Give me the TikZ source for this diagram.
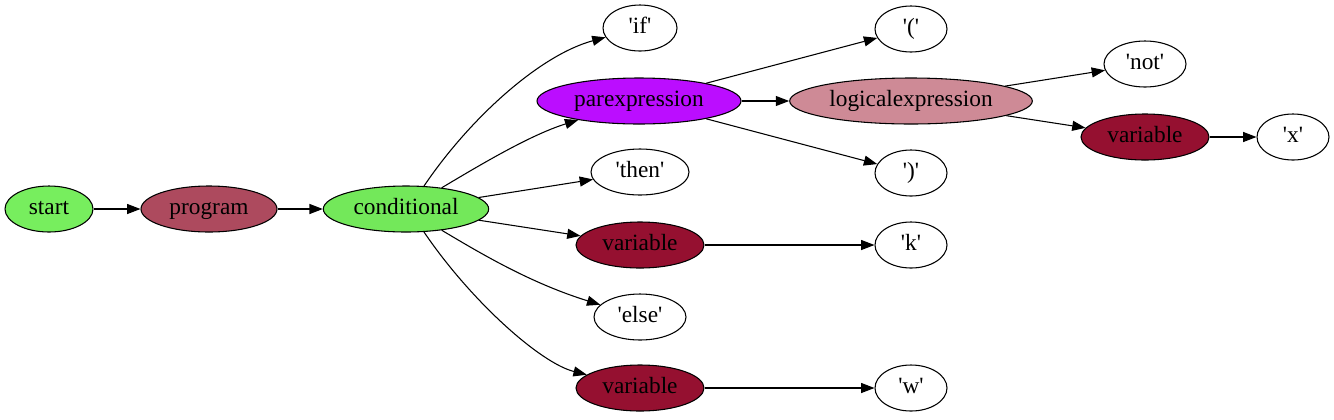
\documentclass[tikz,border=0pt]{standalone}
\usepackage{fontspec}
\setmainfont{Liberation Serif}
\usetikzlibrary{arrows.meta,shapes.geometric}
\definecolor{cgreen}{HTML}{77EE5E}
\definecolor{cgreenb}{HTML}{73E85A}
\definecolor{cprog}{HTML}{AD4A5E}
\definecolor{cpar}{HTML}{BB0DFF}
\definecolor{clog}{HTML}{CE8A96}
\definecolor{cvar}{HTML}{951030}
\newcommand{\qq}[1]{\textquotesingle#1\textquotesingle}
\tikzset{
  gv/.style={ellipse, draw=black, line width=0.8pt, inner sep=0pt, minimum height=34.5pt, text height=11.5pt, text depth=4pt, font=\fontsize{17.5pt}{20pt}\selectfont},
  lit/.style={gv, fill=white, minimum width=54pt},
  edge/.style={line width=0.8pt, -{Triangle[length=10pt,width=7.5pt]}},
}
\begin{document}
\begin{tikzpicture}[x=0.75pt,y=-0.75pt]
\useasboundingbox (0,0) rectangle (1334,419);
\node[gv, fill=cgreen, minimum width=66pt] (start) at (49,209) {start};
\node[gv, fill=cprog, minimum width=102pt] (prog) at (209,209) {program};
\node[gv, fill=cgreenb, minimum width=124pt] (cond) at (406,209) {conditional};
\node[lit, minimum width=55.5pt] (if) at (640,28) {\qq{if}};
\node[gv, fill=cpar, minimum width=153pt] (par) at (639,101) {parexpression};
\node[lit, minimum width=73.5pt] (then) at (640,172) {\qq{then}};
\node[gv, fill=cvar, minimum width=96pt] (var1) at (640,245) {variable};
\node[lit, minimum width=69pt] (else) at (640,317) {\qq{else}};
\node[gv, fill=cvar, minimum width=96pt] (var2) at (640,388) {variable};
\node[lit] (lp) at (911,29) {\qq{(}};
\node[gv, fill=clog, minimum width=182pt] (log) at (911,101) {logicalexpression};
\node[lit] (rp) at (911,173) {\qq{)}};
\node[lit] (k) at (911,245) {\qq{k}};
\node[lit] (w) at (911,388) {\qq{w}};
\node[lit, minimum width=61.5pt] (not) at (1145,64) {\qq{not}};
\node[gv, fill=cvar, minimum width=96pt] (var3) at (1145,137) {variable};
\node[lit] (x) at (1293,137) {\qq{x}};
\coordinate (c1) at (424,186);
\coordinate (c2) at (424,232);

\draw[edge] (start) -- (prog);
\draw[edge] (prog) -- (cond);
\draw[edge] (c1) .. controls (470,118) and (540,55) .. (if);
\draw[edge] (cond) .. controls (480,165) and (530,135) .. (par);
\draw[edge] (cond) -- (then);
\draw[edge] (cond) -- (var1);
\draw[edge] (cond) .. controls (480,253) and (530,283) .. (else);
\draw[edge] (c2) .. controls (470,300) and (540,363) .. (var2);
\draw[edge] (par) -- (lp);
\draw[edge] (par) -- (log);
\draw[edge] (par) -- (rp);
\draw[edge] (var1) -- (k);
\draw[edge] (var2) -- (w);
\draw[edge] (log) -- (not);
\draw[edge] (log) -- (var3);
\draw[edge] (var3) -- (x);
\end{tikzpicture}
\end{document}
